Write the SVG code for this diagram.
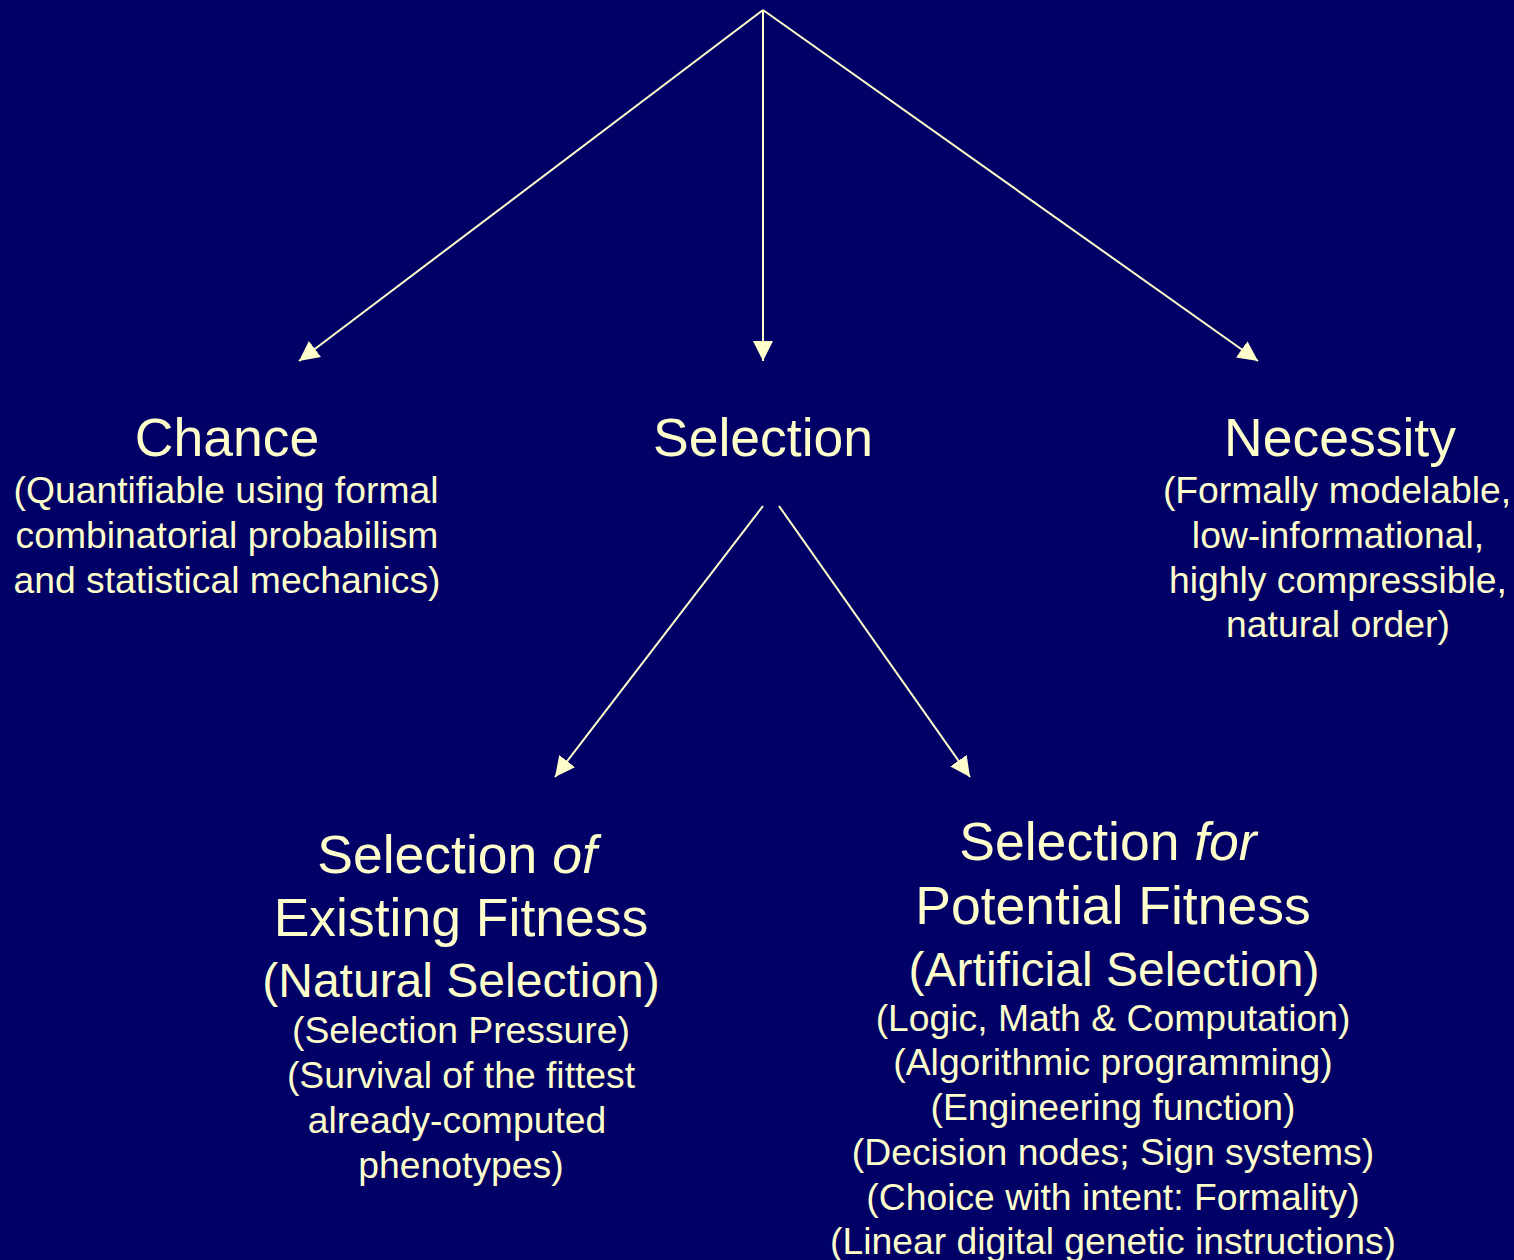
<svg xmlns="http://www.w3.org/2000/svg" width="1514" height="1260" viewBox="0 0 1514 1260">
<style>
text{font-family:"Liberation Sans",Arial,sans-serif;fill:#FFFFCC;text-anchor:middle}
.t{font-size:53.5px}
.p{font-size:48px}
.s{font-size:37.3px}
.edge{stroke:#FFFFCC;stroke-width:2;fill:none;marker-end:url(#ah)}
</style>
<defs>
<marker id="ah" markerUnits="userSpaceOnUse" markerWidth="21" markerHeight="20" refX="20" refY="10" orient="auto" viewBox="0 0 21 20">
<path d="M0,0 L20,10 L0,20 Z" fill="#FFFFCC"/>
</marker>
</defs>
<rect width="1514" height="1260" fill="#000066"/>
<g id="connectors">
<path class="edge" d="M763,10 L299,361"/>
<path class="edge" d="M763,10 L763,361"/>
<path class="edge" d="M763,10 L1258,361"/>
<path class="edge" d="M763,506 L555,777"/>
<path class="edge" d="M779,506 L970,777"/>
</g>
<g id="chance">
<text class="t" x="227" y="456">Chance</text>
<text class="s" x="226" y="503">(Quantifiable using formal</text>
<text class="s" x="227" y="548">combinatorial probabilism</text>
<text class="s" x="227" y="593">and statistical mechanics)</text>
</g>
<g id="selection">
<text class="t" x="763" y="456">Selection</text>
</g>
<g id="necessity">
<text class="t" x="1340" y="456">Necessity</text>
<text class="s" x="1337" y="503">(Formally modelable,</text>
<text class="s" x="1338" y="548">low-informational,</text>
<text class="s" x="1338" y="593">highly compressible,</text>
<text class="s" x="1338" y="637">natural order)</text>
</g>
<g id="selection-of">
<text class="t" x="457" y="873">Selection <tspan font-style="italic">of</tspan></text>
<text class="t" x="461" y="936">Existing Fitness</text>
<text class="p" x="461" y="997">(Natural Selection)</text>
<text class="s" x="461" y="1043">(Selection Pressure)</text>
<text class="s" x="461" y="1088">(Survival of the fittest</text>
<text class="s" x="457" y="1133">already-computed</text>
<text class="s" x="461" y="1178">phenotypes)</text>
</g>
<g id="selection-for">
<text class="t" x="1108" y="860">Selection <tspan font-style="italic">for</tspan></text>
<text class="t" x="1113" y="924">Potential Fitness</text>
<text class="p" x="1114" y="986">(Artificial Selection)</text>
<text class="s" x="1113" y="1031">(Logic, Math &amp; Computation)</text>
<text class="s" x="1113" y="1075">(Algorithmic programming)</text>
<text class="s" x="1113" y="1120">(Engineering function)</text>
<text class="s" x="1113" y="1165">(Decision nodes; Sign systems)</text>
<text class="s" x="1113" y="1210">(Choice with intent: Formality)</text>
<text class="s" x="1113" y="1254">(Linear digital genetic instructions)</text>
</g>
</svg>
